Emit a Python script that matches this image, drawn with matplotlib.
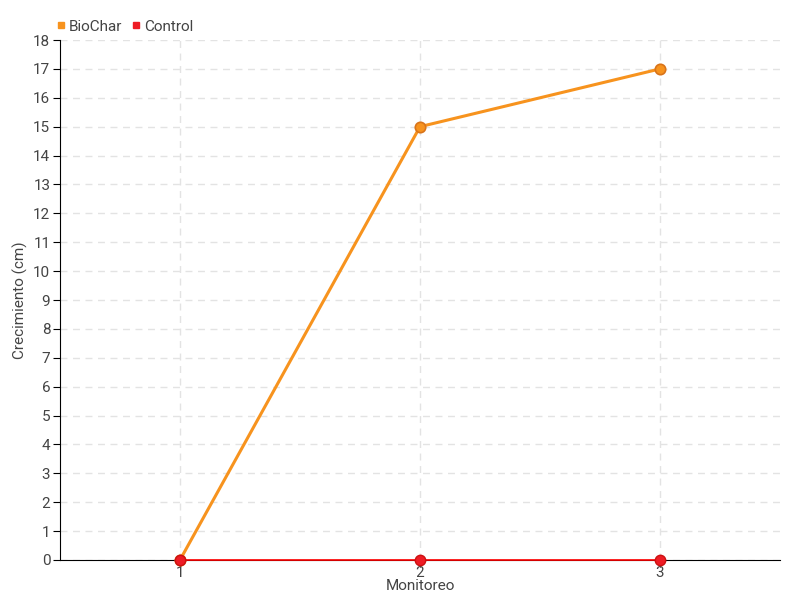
import matplotlib
matplotlib.use("Agg")
import matplotlib.pyplot as plt
from matplotlib import font_manager
from matplotlib.lines import Line2D

names = {f.name for f in font_manager.fontManager.ttflist}
fam = 'Roboto' if 'Roboto' in names else 'DejaVu Sans'
plt.rcParams['font.family'] = [fam, 'DejaVu Sans']

categories = ['1', '2', '3']
biochar = [0, 15, 17]
control = [0, 0, 0]
yticks = list(range(0, 19))

fig = plt.figure(figsize=(8, 6), dpi=100)
ax = fig.add_axes([0.075, 0.0667, 0.9, 0.8666])
x = [1, 2, 3]
ax.plot(x, biochar, color='#f7931e', lw=2.2, marker='o', ms=7.5,
        markerfacecolor='#f7931e', markeredgecolor='#d9741a', mew=1.2, zorder=3, clip_on=False)
ax.plot(x, control, color='#ff0000', lw=1.2, marker='o', ms=7.5,
        markerfacecolor='#ee1c25', markeredgecolor='#cc1111', mew=1, zorder=4, clip_on=False)
ax.set_xlim(0.5, 3.5)
ax.set_ylim(0, 18)
ax.set_xticks(x)
ax.set_xticklabels(categories)
ax.set_yticks(yticks)
ax.grid(True, color='#e3e3e3', ls=(0, (5, 4)), lw=1)
ax.set_axisbelow(True)
for s in ['top', 'right']:
    ax.spines[s].set_visible(False)
ax.spines['left'].set_color('black')
ax.spines['bottom'].set_color('black')
ax.tick_params(axis='both', colors='black', labelcolor='#444444', labelsize=11, length=5)
ax.tick_params(axis='x', pad=-1)
ax.tick_params(axis='y', pad=2)
ax.set_xlabel('Monitoreo', color='#444444', fontsize=11)
ax.set_ylabel('Crecimiento (cm)', color='#444444', fontsize=11)
ax.yaxis.set_label_coords(-0.044, 0.5)
ax.xaxis.set_label_coords(0.5, -0.036)

handles = [Line2D([], [], ls='', marker='s', ms=5, color='#f7931e'),
           Line2D([], [], ls='', marker='s', ms=5, color='#ee1c25')]
fig.legend(handles, ['BioChar', 'Control'], loc='upper left', bbox_to_anchor=(0.052, 0.99),
           ncol=2, frameon=False, fontsize=11, labelcolor='#444444', handletextpad=0.1,
           columnspacing=0.5, handlelength=0.8)
fig.savefig('out.png', dpi=100)
